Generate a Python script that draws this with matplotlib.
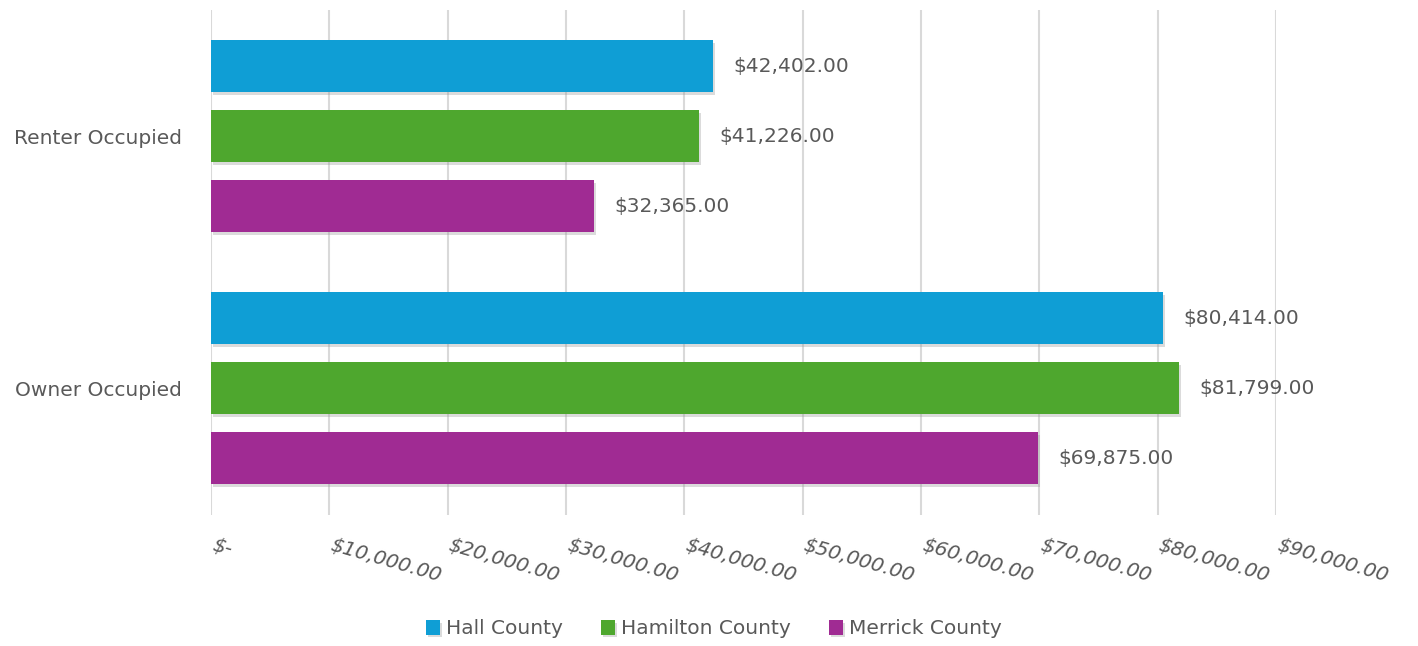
import numpy as np
import matplotlib as mpl
import matplotlib.pyplot as plt
import matplotlib.patheffects as pe
import matplotlib.transforms as mtransforms
from matplotlib.ticker import FuncFormatter

mpl.rc('font', family='DejaVu Sans')

categories = ['Renter Occupied', 'Owner Occupied']
series = ['Hall County', 'Hamilton County', 'Merrick County']
values = {
    'Hall County':     [42402, 80414],
    'Hamilton County': [41226, 81799],
    'Merrick County':  [32365, 69875],
}
colors = ['#0F9ED5', '#4EA72E', '#A02B93']
text_c = '#595959'
fs = 14.5

fig = plt.figure(figsize=(14.18, 6.46), dpi=100)
ax = fig.add_axes([211/1418., 1 - 515/646., (1276 - 211)/1418., (515 - 10)/646.])

group_pos = np.array([0, 3.6])
bar_h = 52/70.

shadow = [pe.SimplePatchShadow(offset=(1.5, -2), shadow_rgbFace='0.6', alpha=0.35), pe.Normal()]

for i, name in enumerate(series):
    y = group_pos + (i - 1)
    bars = ax.barh(y, values[name], height=bar_h, color=colors[i], label=name, zorder=3)
    for b in bars:
        b.set_path_effects(shadow)
    for yy, v in zip(y, values[name]):
        ax.annotate('${:,.2f}'.format(v), (v, yy), xytext=(15, 0), textcoords='offset points',
                    ha='left', va='center', fontsize=fs, color=text_c)

ax.set_xlim(0, 90000)
ax.set_ylim(5.41, -1.8)
ax.set_xticks(np.arange(0, 90001, 10000))
ax.xaxis.set_major_formatter(FuncFormatter(lambda x, p: '$-' if x == 0 else '${:,.2f}'.format(x)))
ax.set_yticks(group_pos)
ax.set_yticklabels(categories)

for s in ax.spines.values():
    s.set_visible(False)
ax.grid(axis='x', color='#D9D9D9', lw=1.5, zorder=0)
ax.tick_params(axis='both', length=0, colors=text_c, labelsize=fs)
ax.tick_params(axis='y', pad=21)
ax.tick_params(axis='x', pad=15)
shift = mtransforms.ScaledTranslation(4/100., 0, fig.dpi_scale_trans)
for lbl in ax.get_xticklabels():
    lbl.set_rotation(-16)
    lbl.set_ha('left')
    lbl.set_va('top')
    lbl.set_rotation_mode('anchor')
    lbl.set_style('italic')
    lbl.set_transform(lbl.get_transform() + shift)

leg = fig.legend(loc='center', bbox_to_anchor=(714/1418., 1 - 629/646.), ncol=3, frameon=False,
                 fontsize=fs, handlelength=0.7, handleheight=0.7, handletextpad=0.3, columnspacing=1.9)
for t in leg.get_texts():
    t.set_color(text_c)

plt.savefig('out.png', dpi=100)
